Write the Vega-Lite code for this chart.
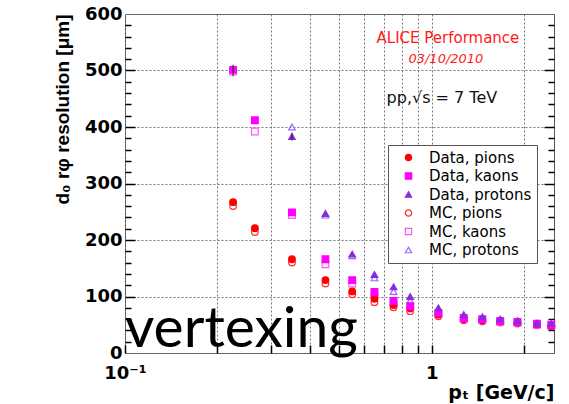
{
  "$schema": "https://vega.github.io/schema/vega-lite/v6.json",
  "width": 429,
  "height": 339,
  "autosize": "none",
  "padding": {"left": 125, "top": 14, "right": 15, "bottom": 51},
  "background": "white",
  "config": {
    "font": "DejaVu Sans",
    "view": {"stroke": "#555", "strokeWidth": 1},
    "axis": {"ticks": true, "tickOpacity": 1}
  },
  "data": {"values": [{}]},
  "datasets": {
    "pts": [
      {"pt": 0.225, "series": "MC, pions", "res": 260},
      {"pt": 0.225, "series": "MC, kaons", "res": 498},
      {"pt": 0.265, "series": "MC, pions", "res": 214},
      {"pt": 0.265, "series": "MC, kaons", "res": 392},
      {"pt": 0.35, "series": "MC, pions", "res": 160},
      {"pt": 0.35, "series": "MC, kaons", "res": 244},
      {"pt": 0.35, "series": "MC, protons", "res": 400},
      {"pt": 0.45, "series": "MC, pions", "res": 123},
      {"pt": 0.45, "series": "MC, kaons", "res": 157},
      {"pt": 0.45, "series": "MC, protons", "res": 244},
      {"pt": 0.55, "series": "MC, pions", "res": 104},
      {"pt": 0.55, "series": "MC, kaons", "res": 123},
      {"pt": 0.55, "series": "MC, protons", "res": 172},
      {"pt": 0.65, "series": "MC, pions", "res": 90},
      {"pt": 0.65, "series": "MC, kaons", "res": 104},
      {"pt": 0.65, "series": "MC, protons", "res": 133},
      {"pt": 0.75, "series": "MC, pions", "res": 81},
      {"pt": 0.75, "series": "MC, kaons", "res": 88},
      {"pt": 0.75, "series": "MC, protons", "res": 109},
      {"pt": 0.85, "series": "MC, pions", "res": 74},
      {"pt": 0.85, "series": "MC, kaons", "res": 79},
      {"pt": 0.85, "series": "MC, protons", "res": 93},
      {"pt": 1.05, "series": "MC, pions", "res": 65},
      {"pt": 1.05, "series": "MC, kaons", "res": 69},
      {"pt": 1.05, "series": "MC, protons", "res": 77},
      {"pt": 1.27, "series": "MC, pions", "res": 58},
      {"pt": 1.27, "series": "MC, kaons", "res": 60},
      {"pt": 1.27, "series": "MC, protons", "res": 64},
      {"pt": 1.46, "series": "MC, pions", "res": 56},
      {"pt": 1.46, "series": "MC, kaons", "res": 58},
      {"pt": 1.46, "series": "MC, protons", "res": 62},
      {"pt": 1.67, "series": "MC, pions", "res": 54},
      {"pt": 1.67, "series": "MC, kaons", "res": 55},
      {"pt": 1.67, "series": "MC, protons", "res": 57},
      {"pt": 1.9, "series": "MC, pions", "res": 52},
      {"pt": 1.9, "series": "MC, kaons", "res": 54},
      {"pt": 1.9, "series": "MC, protons", "res": 55},
      {"pt": 2.2, "series": "MC, pions", "res": 49},
      {"pt": 2.2, "series": "MC, kaons", "res": 50},
      {"pt": 2.2, "series": "MC, protons", "res": 51},
      {"pt": 2.45, "series": "MC, pions", "res": 47},
      {"pt": 2.45, "series": "MC, kaons", "res": 48},
      {"pt": 2.45, "series": "MC, protons", "res": 49},
      {"pt": 0.225, "series": "Data, pions", "res": 267},
      {"pt": 0.225, "series": "Data, kaons", "res": 501},
      {"pt": 0.265, "series": "Data, pions", "res": 221},
      {"pt": 0.265, "series": "Data, kaons", "res": 412},
      {"pt": 0.35, "series": "Data, pions", "res": 166},
      {"pt": 0.35, "series": "Data, kaons", "res": 249},
      {"pt": 0.35, "series": "Data, protons", "res": 383},
      {"pt": 0.45, "series": "Data, pions", "res": 129},
      {"pt": 0.45, "series": "Data, kaons", "res": 166},
      {"pt": 0.45, "series": "Data, protons", "res": 247},
      {"pt": 0.55, "series": "Data, pions", "res": 109},
      {"pt": 0.55, "series": "Data, kaons", "res": 129},
      {"pt": 0.55, "series": "Data, protons", "res": 175},
      {"pt": 0.65, "series": "Data, pions", "res": 96},
      {"pt": 0.65, "series": "Data, kaons", "res": 108},
      {"pt": 0.65, "series": "Data, protons", "res": 139},
      {"pt": 0.75, "series": "Data, pions", "res": 85},
      {"pt": 0.75, "series": "Data, kaons", "res": 92},
      {"pt": 0.75, "series": "Data, protons", "res": 117},
      {"pt": 0.85, "series": "Data, pions", "res": 79},
      {"pt": 0.85, "series": "Data, kaons", "res": 83},
      {"pt": 0.85, "series": "Data, protons", "res": 100},
      {"pt": 1.05, "series": "Data, pions", "res": 68},
      {"pt": 1.05, "series": "Data, kaons", "res": 71},
      {"pt": 1.05, "series": "Data, protons", "res": 80},
      {"pt": 1.27, "series": "Data, pions", "res": 60},
      {"pt": 1.27, "series": "Data, kaons", "res": 62},
      {"pt": 1.27, "series": "Data, protons", "res": 68},
      {"pt": 1.46, "series": "Data, pions", "res": 58},
      {"pt": 1.46, "series": "Data, kaons", "res": 60},
      {"pt": 1.46, "series": "Data, protons", "res": 64},
      {"pt": 1.67, "series": "Data, pions", "res": 56},
      {"pt": 1.67, "series": "Data, kaons", "res": 57},
      {"pt": 1.67, "series": "Data, protons", "res": 60},
      {"pt": 1.9, "series": "Data, pions", "res": 54},
      {"pt": 1.9, "series": "Data, kaons", "res": 55},
      {"pt": 1.9, "series": "Data, protons", "res": 57},
      {"pt": 2.2, "series": "Data, pions", "res": 51},
      {"pt": 2.2, "series": "Data, kaons", "res": 52},
      {"pt": 2.2, "series": "Data, protons", "res": 53},
      {"pt": 2.45, "series": "Data, pions", "res": 48},
      {"pt": 2.45, "series": "Data, kaons", "res": 50},
      {"pt": 2.45, "series": "Data, protons", "res": 52}
    ],
    "errs": [
      {"pt": 0.225, "lo": 490, "hi": 510},
      {"pt": 0.35, "lo": 376, "hi": 390}
    ]
  },
  "resolve": {"axis": {"x": "independent", "y": "independent"}},
  "layer": [
    {
      "data": {"name": "pts"},
      "mark": {"type": "point", "size": 44, "strokeWidth": 1.2, "opacity": 1},
      "encoding": {
        "x": {
          "field": "pt", "type": "quantitative",
          "scale": {"type": "log", "domain": [0.1, 2.5], "nice": false},
          "axis": {
            "orient": "bottom",
            "values": [0.1, 0.2, 0.3, 0.4, 0.5, 0.6, 0.7, 0.8, 0.9, 1, 2],
            "labelExpr": "datum.value == 0.1 ? '10⁻¹' : (datum.value == 1 ? '1' : '')",
            "labelFlush": false,
            "labelFont": "DejaVu Sans", "labelFontWeight": "bold", "labelFontSize": 18, "labelColor": "#000",
            "labelPadding": 11,
            "ticks": false,
            "domain": false,
            "grid": true, "gridDash": [2, 2], "gridColor": "#777",
            "title": "pₜ [GeV/c]", "titleAnchor": "end", "titleFont": "DejaVu Sans", "titleFontWeight": "bold", "titleFontSize": 19, "titleColor": "#000", "titlePadding": 1
          }
        },
        "y": {
          "field": "res", "type": "quantitative",
          "scale": {"domain": [0, 600], "nice": false},
          "axis": {
            "orient": "left",
            "values": [0, 100, 200, 300, 400, 500, 600],
            "labelFont": "DejaVu Sans", "labelFontWeight": "bold", "labelFontSize": 18, "labelColor": "#000",
            "labelPadding": 3,
            "ticks": false,
            "domain": false,
            "grid": true, "gridDash": [2, 2], "gridColor": "#777",
            "title": "d₀ rφ resolution [μm]", "titleAnchor": "end", "titleFont": "Liberation Sans", "titleFontWeight": "bold", "titleFontSize": 19, "titleColor": "#000", "titlePadding": 12
          }
        },
        "shape": {
          "field": "series", "type": "nominal",
          "scale": {
            "domain": ["Data, pions", "Data, kaons", "Data, protons", "MC, pions", "MC, kaons", "MC, protons"],
            "range": ["circle", "square", "triangle-up", "circle", "square", "triangle-up"]
          },
          "legend": {
            "title": null, "orient": "none", "legendX": 263, "legendY": 131,
            "direction": "vertical",
            "labelFont": "DejaVu Sans", "labelFontSize": 15, "labelColor": "#000",
            "padding": 5, "rowPadding": 2.5, "symbolOffset": 8, "labelOffset": 13,
            "strokeColor": "#555", "fillColor": "white",
            "symbolSize": 40, "symbolStrokeWidth": 1.2
          }
        },
        "stroke": {
          "field": "series", "type": "nominal",
          "scale": {
            "domain": ["Data, pions", "Data, kaons", "Data, protons", "MC, pions", "MC, kaons", "MC, protons"],
            "range": ["#ff0000", "#ff00ff", "#8a2be2", "#ff3030", "#ff55ff", "#9966ff"]
          },
          "legend": {
            "title": null, "orient": "none", "legendX": 263, "legendY": 131,
            "direction": "vertical",
            "labelFont": "DejaVu Sans", "labelFontSize": 15, "labelColor": "#000",
            "padding": 5, "rowPadding": 2.5, "symbolOffset": 8, "labelOffset": 13,
            "strokeColor": "#555", "fillColor": "white",
            "symbolSize": 40, "symbolStrokeWidth": 1.2
          }
        },
        "fill": {
          "field": "series", "type": "nominal",
          "scale": {
            "domain": ["Data, pions", "Data, kaons", "Data, protons", "MC, pions", "MC, kaons", "MC, protons"],
            "range": ["#ff0000", "#ff00ff", "#8a2be2", "transparent", "transparent", "transparent"]
          },
          "legend": {
            "title": null, "orient": "none", "legendX": 263, "legendY": 131,
            "direction": "vertical",
            "labelFont": "DejaVu Sans", "labelFontSize": 15, "labelColor": "#000",
            "padding": 5, "rowPadding": 2.5, "symbolOffset": 8, "labelOffset": 13,
            "strokeColor": "#555", "fillColor": "white",
            "symbolSize": 40, "symbolStrokeWidth": 1.2
          }
        }
      }
    },
    {
      "data": {"name": "errs"},
      "mark": {"type": "rule", "color": "#333", "strokeWidth": 1.2},
      "encoding": {
        "x": {
          "field": "pt", "type": "quantitative",
          "axis": {
            "orient": "bottom", "offset": -8,
            "values": [0.1, 0.2, 0.3, 0.4, 0.5, 0.6, 0.7, 0.8, 0.9, 1, 2],
            "labels": false, "domain": false, "grid": false, "title": null,
            "ticks": true, "tickSize": 8, "tickColor": "#000", "tickWidth": 1.5
          }
        },
        "y": {
          "field": "lo", "type": "quantitative",
          "axis": {
            "orient": "right", "offset": -10,
            "values": [100, 200, 300, 400, 500],
            "labels": false, "domain": false, "grid": false, "title": null,
            "ticks": true, "tickSize": 10, "tickColor": "#000", "tickWidth": 1.5
          }
        },
        "y2": {"field": "hi"}
      }
    },
    {
      "mark": {"type": "text", "text": "ALICE Performance", "font": "DejaVu Sans", "fontSize": 15, "color": "#ff1a1a", "align": "center", "baseline": "alphabetic"},
      "encoding": {
        "x": {"datum": 1.128, "type": "quantitative", "axis": null},
        "y": {
          "datum": 548.6, "type": "quantitative",
          "axis": {
            "orient": "left", "offset": -10,
            "values": [100, 200, 300, 400, 500],
            "labels": false, "domain": false, "grid": false, "title": null,
            "ticks": true, "tickSize": 10, "tickColor": "#000", "tickWidth": 1.5
          }
        }
      }
    },
    {
      "mark": {"type": "text", "text": "03/10/2010", "font": "DejaVu Sans", "fontStyle": "italic", "fontSize": 13, "color": "#ff1a1a", "align": "center", "baseline": "alphabetic"},
      "encoding": {
        "x": {"datum": 1.111, "type": "quantitative", "axis": null},
        "y": {
          "datum": 513.7, "type": "quantitative",
          "axis": {
            "orient": "left", "offset": -6,
            "values": [20, 40, 60, 80, 120, 140, 160, 180, 220, 240, 260, 280, 320, 340, 360, 380, 420, 440, 460, 480, 520, 540, 560, 580],
            "labels": false, "domain": false, "grid": false, "title": null,
            "ticks": true, "tickSize": 6, "tickColor": "#000", "tickWidth": 1.5
          }
        }
      }
    },
    {
      "mark": {"type": "text", "text": "pp,√s = 7 TeV", "font": "DejaVu Sans", "fontSize": 16, "color": "#111", "align": "center", "baseline": "alphabetic"},
      "encoding": {
        "x": {"datum": 1.078, "type": "quantitative", "axis": null},
        "y": {
          "datum": 442.9, "type": "quantitative",
          "axis": {
            "orient": "right", "offset": -6,
            "values": [20, 40, 60, 80, 120, 140, 160, 180, 220, 240, 260, 280, 320, 340, 360, 380, 420, 440, 460, 480, 520, 540, 560, 580],
            "labels": false, "domain": false, "grid": false, "title": null,
            "ticks": true, "tickSize": 6, "tickColor": "#000", "tickWidth": 1.5
          }
        }
      }
    },
    {
      "mark": {"type": "text", "text": "vertexing", "font": "Lato", "fontSize": 57, "color": "#000", "align": "left", "baseline": "alphabetic"},
      "encoding": {
        "x": {"datum": 0.1, "type": "quantitative", "axis": null},
        "y": {"datum": 11, "type": "quantitative", "axis": null}
      }
    }
  ]
}
